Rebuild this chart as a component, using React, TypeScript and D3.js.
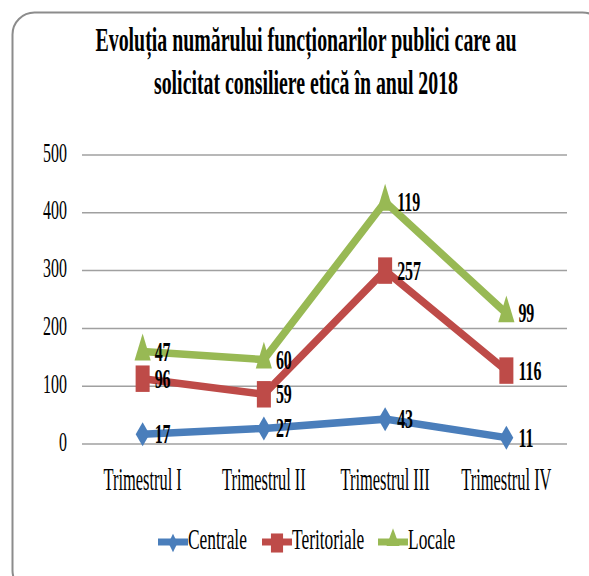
import React, { useEffect, useRef } from 'react';
import * as d3 from 'd3';

const categories = ['Trimestrul I', 'Trimestrul II', 'Trimestrul III', 'Trimestrul IV'];
const seriesNames = ['Centrale', 'Teritoriale', 'Locale'];
const centrale = [17, 27, 43, 11];
const teritoriale = [96, 59, 257, 116];
const locale = [47, 60, 119, 99];
const yTicks = [0, 100, 200, 300, 400, 500];
const titleLines = [
  'Evoluția numărului funcționarilor publici care au',
  'solicitat consiliere etică în anul 2018',
];

const colors = ['#4A7EBB', '#BE4B48', '#98B954'];
const serif = "'Liberation Serif', 'Times New Roman', Tinos, serif";

const App = () => {
  const svgRef = useRef<SVGSVGElement>(null);

  useEffect(() => {
    const svg = d3.select(svgRef.current);
    svg.selectAll('*').remove();

    // frame
    svg.append('rect')
      .attr('x', 12.5).attr('y', 12.5)
      .attr('width', 592).attr('height', 580)
      .attr('rx', 22).attr('ry', 22)
      .attr('fill', '#fff')
      .attr('stroke', '#8c8c8c')
      .attr('stroke-width', 2);

    // title
    const titleY = [51, 94];
    const titleW = [421, 304];
    titleLines.forEach((t, i) => {
      svg.append('text')
        .attr('x', 306).attr('y', titleY[i])
        .attr('text-anchor', 'middle')
        .attr('font-family', serif)
        .attr('font-weight', 'bold')
        .attr('font-size', 33)
        .attr('textLength', titleW[i])
        .attr('lengthAdjust', 'spacingAndGlyphs')
        .attr('fill', '#000')
        .text(t);
    });

    const x = d3.scalePoint<string>().domain(categories).range([82, 567]).padding(0.5);
    const y = d3.scaleLinear().domain([0, 500]).range([444, 155]);

    // gridlines
    svg.append('g')
      .selectAll('line')
      .data(yTicks)
      .join('line')
      .attr('x1', 82).attr('x2', 567)
      .attr('y1', d => y(d)).attr('y2', d => y(d))
      .attr('stroke', '#a0a0a0')
      .attr('stroke-width', 1.5);

    // y tick labels
    svg.append('g')
      .selectAll('text')
      .data(yTicks)
      .join('text')
      .attr('transform', d => `translate(67,${y(d) + 6.5}) scale(0.59,1)`)
      .attr('text-anchor', 'end')
      .attr('font-family', serif)
      .attr('font-size', 27)
      .text(d => d);

    // x labels
    svg.append('g')
      .selectAll('text')
      .data(categories)
      .join('text')
      .attr('transform', d => `translate(${x(d)},490) scale(0.53,1)`)
      .attr('text-anchor', 'middle')
      .attr('font-family', serif)
      .attr('font-size', 31)
      .text(d => d);

    // stacked series
    const rows = categories.map((c, i) => ({
      cat: c,
      Centrale: centrale[i],
      Teritoriale: teritoriale[i],
      Locale: locale[i],
    }));
    const stacked = d3.stack<any>().keys(seriesNames)(rows);

    const line = d3.line<any>()
      .x(d => x(d.data.cat) as number)
      .y(d => y(d[1]));

    const markerPath = (i: number) => {
      if (i === 0) return d3.symbol(d3.symbolDiamond, 166)();
      if (i === 1) return d3.symbol(d3.symbolSquare, 700)();
      return d3.symbol(d3.symbolTriangle, 420)();
    };
    const markerScale = ['scale(1,1)', 'scale(0.53,1)', 'scale(0.52,1)'];

    stacked.forEach((s, i) => {
      svg.append('path')
        .datum(s)
        .attr('fill', 'none')
        .attr('stroke', colors[i])
        .attr('stroke-width', 7.5)
        .attr('stroke-linejoin', 'miter')
        .attr('d', line);

      svg.append('g')
        .selectAll('path')
        .data(s)
        .join('path')
        .attr('transform', d => `translate(${x(d.data.cat)},${y(d[1])}) ${markerScale[i]}`)
        .attr('d', markerPath(i))
        .attr('fill', colors[i]);
    });

    // data labels
    stacked.forEach((s, i) => {
      svg.append('g')
        .selectAll('text')
        .data(s)
        .join('text')
        .attr('transform', d => `translate(${(x(d.data.cat) as number) + 12},${y(d[1]) + 9}) scale(0.57,1)`)
        .attr('font-family', serif)
        .attr('font-weight', 'bold')
        .attr('font-size', 28)
        .text(d => d.data[seriesNames[i]]);
    });

    // legend
    const legendX = [158, 262, 378];
    const legendY = 542;
    seriesNames.forEach((name, i) => {
      const g = svg.append('g').attr('transform', `translate(${legendX[i]},${legendY})`);
      g.append('line')
        .attr('x1', 0).attr('x2', 30)
        .attr('y1', 0).attr('y2', 0)
        .attr('stroke', colors[i])
        .attr('stroke-width', 7);
      const small = i === 0
        ? d3.symbol(d3.symbolDiamond, 70)()
        : i === 1
          ? d3.symbol(d3.symbolSquare, 300)()
          : d3.symbol(d3.symbolTriangle, 150)();
      g.append('path')
        .attr('transform', `translate(15,${i === 2 ? -2 : 1}) ${i === 0 ? 'scale(1,1.2)' : 'scale(0.7,1.1)'}`)
        .attr('d', small)
        .attr('fill', colors[i]);
      g.append('text')
        .attr('transform', 'translate(30,7) scale(0.6,1)')
        .attr('font-family', serif)
        .attr('font-size', 29)
        .text(name);
    });
  }, []);

  return (
    <svg
      ref={svgRef}
      width={589}
      height={576}
      style={{ position: 'absolute', left: 0, top: 0, background: '#fff' }}
    />
  );
};

export default App;
